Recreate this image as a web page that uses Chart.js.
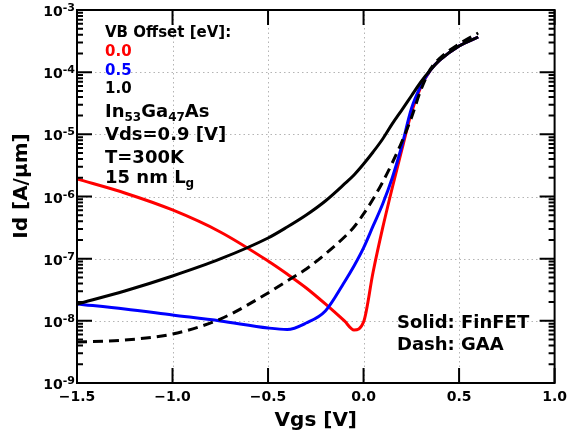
<!DOCTYPE html>
<html>
<head>
<meta charset="utf-8">
<script src="https://cdn.jsdelivr.net/npm/chart.js@4"></script>
<style>
  html, body { margin: 0; padding: 0; background: #fff; }
  #wrap { width: 573px; height: 439px; }
</style>
</head>
<body>
<div id="wrap"><canvas id="iv-chart"></canvas></div>
<script>
// gate voltage samples [V]
const vgs = [-1.5, -1.25, -1.0, -0.75, -0.5, -0.4, -0.3, -0.2, -0.1, -0.05, 0.0,
  0.05, 0.1, 0.15, 0.2, 0.25, 0.3, 0.35, 0.4, 0.5, 0.6];

// drain current [A/um]
const finVb00 = [1.91e-6, 1.14e-6, 6.07e-7, 2.69e-7, 9.18e-8, 5.67e-8, 3.38e-8, 1.87e-8, 9.95e-9, 7.13e-9, 9.58e-9,
  6.11e-8, 3.12e-7, 1.37e-6, 5.60e-6, 2.20e-5, 5.77e-5, 1.08e-4, 1.57e-4, 2.64e-4, 3.68e-4];
const finVb05 = [1.87e-8, 1.55e-8, 1.24e-8, 9.95e-9, 7.67e-9, 7.26e-9, 9.23e-9, 1.44e-8, 4.22e-8, 7.62e-8, 1.49e-7,
  3.36e-7, 7.58e-7, 1.99e-6, 6.49e-6, 2.56e-5, 6.0e-5, 1.08e-4, 1.57e-4, 2.64e-4, 3.68e-4];
const finVb10 = [1.87e-8, 3.02e-8, 5.26e-8, 9.89e-8, 2.15e-7, 3.23e-7, 5.04e-7, 8.47e-7, 1.59e-6, 2.22e-6, 3.33e-6,
  5.20e-6, 8.42e-6, 1.47e-5, 2.46e-5, 4.14e-5, 6.95e-5, 1.08e-4, 1.57e-4, 2.64e-4, 3.68e-4];
const gaaVb10 = [4.57e-9, 4.92e-9, 6.14e-9, 1.07e-8, 2.81e-8, 4.38e-8, 6.83e-8, 1.19e-7, 2.23e-7, 3.23e-7, 5.24e-7,
  9.12e-7, 1.71e-6, 3.46e-6, 7.53e-6, 1.83e-5, 5.17e-5, 1.12e-4, 1.69e-4, 2.84e-4, 4.27e-4];

const xTicks = [-1.5, -1.0, -0.5, 0.0, 0.5, 1.0];
const yDecades = [1e-9, 1e-8, 1e-7, 1e-6, 1e-5, 1e-4, 1e-3];

const FONT = "'DejaVu Sans', Verdana, sans-serif";

function pts(arr) {
  return vgs.map((v, i) => ({ x: v, y: arr[i] }));
}

function line(label, arr, color, dash) {
  return {
    label: label,
    data: pts(arr),
    borderColor: color,
    borderWidth: 3,
    borderDash: dash || [],
    pointRadius: 0,
    cubicInterpolationMode: "monotone",
    fill: false,
  };
}

// first dataset is painted last (on top)
const data = {
  datasets: [
    line("FinFET 1.0", finVb10, "#000000"),
    line("GAA 1.0", gaaVb10, "#000000", [10, 6]),
    line("FinFET 0.5", finVb05, "#0000ff"),
    line("FinFET 0.0", finVb00, "#ff0000"),
  ],
};

// frame, dotted grid, inward ticks, y labels and the text notes
const decor = {
  id: "decor",
  beforeDatasetsDraw(chart) {
    const { ctx, chartArea: a, scales: { x, y } } = chart;
    ctx.save();
    ctx.strokeStyle = "#b4b4b4";
    ctx.lineWidth = 1;
    ctx.setLineDash([1.5, 3]);
    xTicks.slice(1, -1).forEach((v) => {
      const px = Math.round(x.getPixelForValue(v)) + 0.5;
      ctx.beginPath();
      ctx.moveTo(px, a.top);
      ctx.lineTo(px, a.bottom);
      ctx.stroke();
    });
    yDecades.slice(1, -1).forEach((v) => {
      const py = Math.round(y.getPixelForValue(v)) + 0.5;
      ctx.beginPath();
      ctx.moveTo(a.left, py);
      ctx.lineTo(a.right, py);
      ctx.stroke();
    });
    ctx.restore();
  },
  afterDatasetsDraw(chart) {
    const { ctx, chartArea: a, scales: { x, y } } = chart;
    ctx.save();
    ctx.strokeStyle = "#000";
    ctx.lineWidth = 2;
    ctx.setLineDash([]);
    ctx.beginPath();
    // x major ticks
    xTicks.forEach((v) => {
      const px = x.getPixelForValue(v);
      ctx.moveTo(px, a.bottom);
      ctx.lineTo(px, a.bottom - 15);
      ctx.moveTo(px, a.top);
      ctx.lineTo(px, a.top + 15);
    });
    // y major + minor ticks
    for (let e = -9; e <= -3; e++) {
      for (let k = 1; k <= 9; k++) {
        const v = k * Math.pow(10, e);
        if (v > 1.0001e-3) break;
        const py = y.getPixelForValue(v);
        const len = k === 1 ? 15 : 6;
        ctx.moveTo(a.left, py);
        ctx.lineTo(a.left + len, py);
        ctx.moveTo(a.right, py);
        ctx.lineTo(a.right - len, py);
      }
    }
    ctx.stroke();
    ctx.strokeRect(a.left, a.top, a.right - a.left, a.bottom - a.top);

    // y tick labels 10^n
    ctx.fillStyle = "#000";
    ctx.textBaseline = "alphabetic";
    yDecades.forEach((v) => {
      const py = y.getPixelForValue(v);
      const ex = "-" + String(-Math.round(Math.log10(v)));
      ctx.font = "bold 11px " + FONT;
      ctx.textAlign = "right";
      ctx.fillText(ex, a.left - 2, py + 1);
      const ew = ctx.measureText(ex).width;
      ctx.font = "bold 14px " + FONT;
      ctx.fillText("10", a.left - 2 - ew, py + 6);
    });

    // notes
    ctx.textAlign = "left";
    const tx = 105;
    ctx.font = "bold 15px " + FONT;
    ctx.fillStyle = "#000";
    ctx.fillText("VB Offset [eV]:", tx, 37);
    ctx.fillStyle = "#ff0000";
    ctx.fillText("0.0", tx, 56);
    ctx.fillStyle = "#0000ff";
    ctx.fillText("0.5", tx, 75);
    ctx.fillStyle = "#000";
    ctx.fillText("1.0", tx, 93);

    const big = "bold 18px " + FONT;
    const sub = "bold 12px " + FONT;
    let cx = tx;
    [["In", 0], ["53", 1], ["Ga", 0], ["47", 1], ["As", 0]].forEach(([s, isSub]) => {
      ctx.font = isSub ? sub : big;
      ctx.fillText(s, cx, isSub ? 121 : 117);
      cx += ctx.measureText(s).width;
    });
    ctx.font = big;
    ctx.fillText("Vds=0.9 [V]", tx, 140);
    ctx.fillText("T=300K", tx, 163);
    ctx.fillText("15 nm L", tx, 183);
    const w = ctx.measureText("15 nm L").width;
    ctx.font = sub;
    ctx.fillText("g", tx + w, 187);

    ctx.font = big;
    ctx.fillText("Solid: FinFET", 397, 328);
    ctx.fillText("Dash: GAA", 397, 350);
    ctx.restore();
  },
};

const config = {
  type: "line",
  data: data,
  options: {
    responsive: true,
    maintainAspectRatio: false,
    animation: false,
    layout: { padding: { left: 0, right: 15, top: 10, bottom: 0 } },
    plugins: {
      legend: { display: false },
      tooltip: { enabled: false },
    },
    scales: {
      x: {
        type: "linear",
        min: -1.5,
        max: 1.0,
        afterBuildTicks: (s) => { s.ticks = xTicks.map((v) => ({ value: v })); },
        afterFit: (s) => { s.height = 56; },
        grid: { display: false, drawTicks: false },
        border: { display: false },
        ticks: {
          padding: 6,
          color: "#000",
          font: { family: FONT, size: 14, weight: "bold" },
          maxRotation: 0,
          callback: (v) => (v < 0 ? "\u2212" + Math.abs(v).toFixed(1) : v.toFixed(1)),
        },
        title: {
          display: true,
          text: "Vgs [V]",
          color: "#000",
          font: { family: FONT, size: 20, weight: "bold" },
          padding: { top: 0, bottom: 6 },
        },
      },
      y: {
        type: "logarithmic",
        min: 1e-9,
        max: 1e-3,
        afterBuildTicks: (s) => { s.ticks = yDecades.map((v) => ({ value: v })); },
        afterFit: (s) => { s.width = 77; },
        grid: { display: false, drawTicks: false },
        border: { display: false },
        ticks: { display: false },
        title: {
          display: true,
          text: "   Id [A/\u03BCm]",
          color: "#000",
          font: { family: FONT, size: 20, weight: "bold" },
          padding: { top: 10, bottom: 0 },
        },
      },
    },
  },
  plugins: [decor],
};

let ctx = document.getElementById("iv-chart");
const ivChart = new Chart(ctx, config);
</script>
</body>
</html>
